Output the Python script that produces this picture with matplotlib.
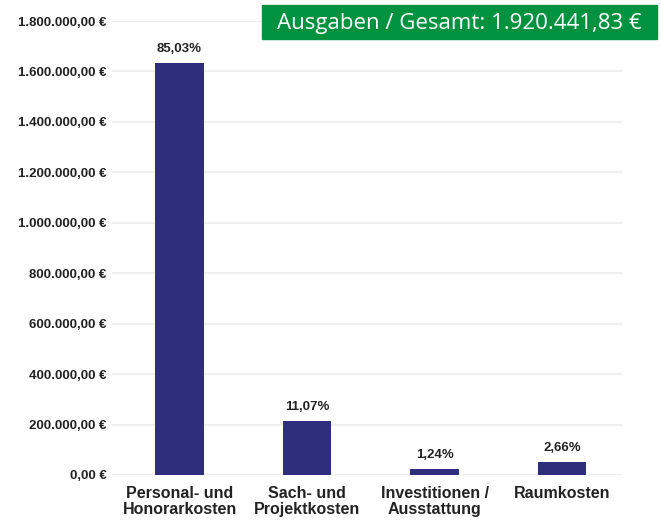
import matplotlib.pyplot as plt
from matplotlib.ticker import FuncFormatter

# Ausgaben nach Kostenart
categories = ["Personal- und\nHonorarkosten", "Sach- und\nProjektkosten",
              "Investitionen /\nAusstattung", "Raumkosten"]
values = [1632951.7, 212593.0, 23813.5, 51083.7]
percent_labels = ["85,03%", "11,07%", "1,24%", "2,66%"]
total_label = "Ausgaben / Gesamt: 1.920.441,83 €"

bar_color = "#2e2e7c"
green = "#00923f"

def euro(v, pos):
    s = f"{v:,.2f}"
    s = s.replace(",", "X").replace(".", ",").replace("X", ".")
    return s + " €"

fig = plt.figure(figsize=(6.61, 5.23), dpi=100)
ax = fig.add_axes([0.1694, 0.0918, 0.7716, 0.868])

x = range(len(categories))
ax.bar(x, values, width=0.38, color=bar_color, zorder=3)

for i, v in enumerate(values):
    ax.annotate(percent_labels[i], (i, v), xytext=(0, 6), textcoords="offset points",
                ha="center", va="bottom", fontsize=9.5, fontweight="bold",
                family="Liberation Sans", color="#222222")

ax.set_ylim(0, 1800000)
ax.set_xlim(-0.53, 3.47)
ax.set_yticks(range(0, 1800001, 200000))
ax.yaxis.set_major_formatter(FuncFormatter(euro))
ax.set_xticks(list(x))
ax.set_xticklabels(categories, fontsize=11.5, fontweight="bold", family="Liberation Sans",
                   linespacing=1.05)
for lab in ax.get_yticklabels():
    lab.set_fontsize(9.5)
    lab.set_fontweight("bold")
    lab.set_family("Liberation Sans")
ax.tick_params(axis="both", length=0, colors="#222222")
ax.tick_params(axis="y", pad=4)
ax.tick_params(axis="x", pad=8)
ax.grid(axis="y", color="#efefef", linewidth=1.6, zorder=0)
for s in ax.spines.values():
    s.set_visible(False)

fig.patches.append(plt.Rectangle((262 / 661, 1 - 39 / 523), 395 / 661, 34 / 523,
                                 transform=fig.transFigure, color=green, zorder=5))
fig.text(459 / 661, 1 - 23 / 523, total_label, ha="center", va="center",
         color="white", fontsize=16, family="Open Sans", zorder=6)

fig.savefig("out.png", dpi=100)
